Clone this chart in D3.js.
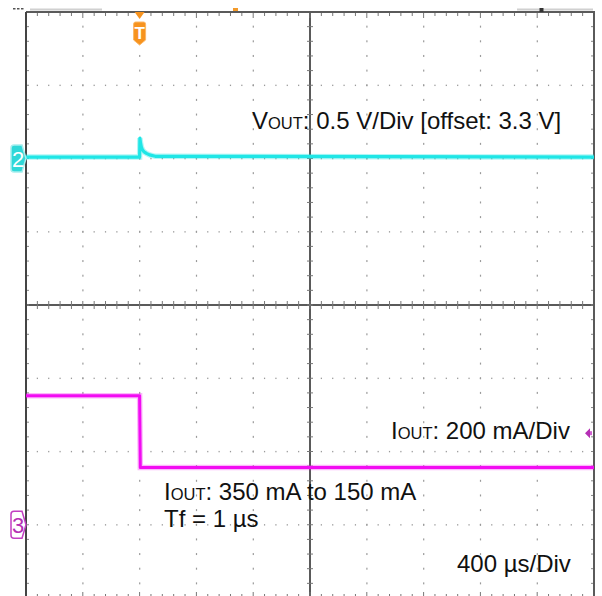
<!DOCTYPE html>
<html><head><meta charset="utf-8">
<script src="https://cdn.jsdelivr.net/npm/d3@7"></script>
<style>
html,body{margin:0;padding:0;background:#fff;}
svg{display:block;}
text{font-family:"Liberation Sans",Arial,sans-serif;}
</style></head>
<body>
<svg id="c" width="602" height="596"></svg>
<script>
// ---- data ----
const timeDomainUs = [-800, 3200];          // 400 µs/Div, 10 divisions, trigger at 0
const vDomain = [0.3, 4.3];                 // 0.5 V/Div, offset 3.3 V
const iDomain = [-0.2, 1.4];                // 200 mA/Div
const vTime = [-800, 0, 2, 6, 12, 20, 32, 48, 70, 110, 3200];
const vOut  = [3.31, 3.31, 3.44, 3.41, 3.38, 3.36, 3.345, 3.335, 3.325, 3.315, 3.31];
const iTime = [-800, 0, 5, 3200];
const iOut  = [0.352, 0.352, 0.156, 0.156];
const vOffset = 3.3;
const iZero = 0;
const triggerLevelA = 0.25;
const labels = [
  {main:"V", sub:"OUT", rest:": 0.5 V/Div [offset: 3.3 V]", x:252, y:129},
  {main:"I", sub:"OUT", rest:": 200 mA/Div", x:391, y:439},
  {main:"I", sub:"OUT", rest:": 350 mA to 150 mA", x:164, y:500},
  {main:"", sub:"", rest:"Tf = 1 µs", x:164, y:527},
  {main:"", sub:"", rest:"400 µs/Div", x:457, y:572}
];

// ---- layout ----
const L = 26, R = 594, T = 12, B = 598;
const x = d3.scaleLinear().domain(timeDomainUs).range([L, R]);
const yV = d3.scaleLinear().domain(vDomain).range([B, T]);
const yI = d3.scaleLinear().domain(iDomain).range([B, T]);
const svg = d3.select("#c");

const divX = (R - L) / 10, divY = (B - T) / 8;
const minorX = d3.range(0, 51).map(i => L + i * divX / 5);
const minorY = d3.range(0, 41).map(i => T + i * divY / 5);
const majorX = d3.range(1, 10).map(i => L + i * divX);
const majorY = d3.range(1, 8).map(i => T + i * divY);
const cx = L + 5 * divX, cy = T + 4 * divY;

const g = svg.append("g");
const dotC = "#9a9a9a";
// dotted grid
majorX.filter(v => Math.abs(v - cx) > 1).forEach(xx => {
  minorY.forEach(yy => g.append("rect").attr("x", xx - 0.5).attr("y", yy - 1).attr("width", 1.2).attr("height", 2).attr("fill", dotC));
});
majorY.filter(v => Math.abs(v - cy) > 1).forEach(yy => {
  minorX.forEach(xx => g.append("rect").attr("x", xx - 0.6).attr("y", yy - 0.6).attr("width", 1.2).attr("height", 1.4).attr("fill", dotC));
});
const lineC = "#5a5a5a";
// center cross
g.append("line").attr("x1", L).attr("x2", R).attr("y1", cy).attr("y2", cy).attr("stroke", lineC).attr("stroke-width", 2);
g.append("line").attr("x1", cx).attr("x2", cx).attr("y1", T).attr("y2", B).attr("stroke", lineC).attr("stroke-width", 2);
minorX.forEach(xx => g.append("line").attr("x1", xx).attr("x2", xx).attr("y1", cy - 4).attr("y2", cy + 4).attr("stroke", "#777").attr("stroke-width", 1));
minorY.forEach(yy => g.append("line").attr("x1", cx - 3).attr("x2", cx + 3).attr("y1", yy).attr("y2", yy).attr("stroke", "#777").attr("stroke-width", 1));
// border ticks
minorX.forEach((xx, i) => {
  const len = i % 5 === 0 ? 6 : 4;
  g.append("line").attr("x1", xx).attr("x2", xx).attr("y1", T).attr("y2", T + len).attr("stroke", "#777").attr("stroke-width", 1);
  g.append("line").attr("x1", xx).attr("x2", xx).attr("y1", B).attr("y2", B - len).attr("stroke", "#777").attr("stroke-width", 1);
});
minorY.forEach(yy => {
  g.append("line").attr("x1", L).attr("x2", L + 3).attr("y1", yy).attr("y2", yy).attr("stroke", "#888").attr("stroke-width", 1);
  g.append("line").attr("x1", R).attr("x2", R - 3).attr("y1", yy).attr("y2", yy).attr("stroke", "#888").attr("stroke-width", 1);
});
// border
g.append("line").attr("x1", L).attr("x2", R + 1).attr("y1", T).attr("y2", T).attr("stroke", lineC).attr("stroke-width", 2);
g.append("line").attr("x1", L).attr("x2", L).attr("y1", T).attr("y2", B).attr("stroke", "#444").attr("stroke-width", 2);
g.append("line").attr("x1", R).attr("x2", R).attr("y1", T).attr("y2", B).attr("stroke", lineC).attr("stroke-width", 2);

// top status bits
g.append("rect").attr("x", 30).attr("y", 8.5).attr("width", 72).attr("height", 2).attr("fill", "#d0d0d0");
g.append("rect").attr("x", 517).attr("y", 8.5).attr("width", 76).attr("height", 2).attr("fill", "#d0d0d0");
[13, 17, 21].forEach(xx => g.append("rect").attr("x", xx).attr("y", 8).attr("width", 2.5).attr("height", 1.5).attr("fill", "#555"));
g.append("rect").attr("x", 233).attr("y", 8).attr("width", 5).attr("height", 3).attr("fill", "#f39a2a");
g.append("rect").attr("x", 539.5).attr("y", 8).attr("width", 4).attr("height", 4).attr("fill", "#333");

// traces
const cyan = "#1fe6e6", mag = "#f20cf2";
const lineV = d3.line().x((d, i) => x(vTime[i])).y(d => yV(d));
const lineI = d3.line().x((d, i) => x(iTime[i])).y(d => yI(d));
svg.append("path").attr("d", lineV(vOut)).attr("fill", "none").attr("stroke", cyan).attr("stroke-width", 5.5).attr("opacity", 0.35);
svg.append("path").attr("d", lineV(vOut)).attr("fill", "none").attr("stroke", cyan).attr("stroke-width", 3.2).attr("stroke-linejoin", "round");
svg.append("path").attr("d", lineI(iOut)).attr("fill", "none").attr("stroke", mag).attr("stroke-width", 5.5).attr("opacity", 0.3);
svg.append("path").attr("d", lineI(iOut)).attr("fill", "none").attr("stroke", mag).attr("stroke-width", 3).attr("stroke-linejoin", "round");

// trigger marker
const tx = x(0);
svg.append("path").attr("d", `M${tx-5},${T}L${tx+5},${T}L${tx},${T+7}Z`).attr("fill", "#f7931e");
svg.append("path").attr("d", `M${tx-6},${T+12}Q${tx-6},${T+10} ${tx-4},${T+10}L${tx+4},${T+10}Q${tx+6},${T+10} ${tx+6},${T+12}L${tx+6},${T+28}L${tx},${T+33}L${tx-6},${T+28}Z`)
  .attr("fill", "#f7931e").attr("stroke", "#fbb766").attr("stroke-width", 1);
svg.append("text").attr("x", tx).attr("y", T + 27).attr("text-anchor", "middle").attr("fill", "#fff").attr("font-size", 17).attr("font-weight", "bold").text("T");

// channel markers
function chMarker(yc, fill, stroke, txtColor, label) {
  const t = yc - 13.5, b = yc + 13.5;
  svg.append("path").attr("d", `M14,${t}L22,${t}L26,${yc}L22,${b}L14,${b}Q11,${b} 11,${b-3}L11,${t+3}Q11,${t} 14,${t}Z`)
    .attr("fill", fill).attr("stroke", stroke).attr("stroke-width", 1.5);
  svg.append("text").attr("x", 18).attr("y", yc + 8).attr("text-anchor", "middle").attr("fill", txtColor).attr("font-size", 22).text(label);
}
chMarker(yV(vOffset), "#2fd8d8", "#a7eeee", "#ffffff", "2");
chMarker(yI(iZero), "#ffffff", "#c23fc2", "#b52fb5", "3");

// trigger level marker (right)
const ty = yI(triggerLevelA);
svg.append("path").attr("d", `M585,${ty}L590,${ty-5}L590,${ty+5}Z`).attr("fill", "#b52fb5");
svg.append("rect").attr("x", 590).attr("y", ty - 2).attr("width", 2).attr("height", 4).attr("fill", "#d060d0");

// labels
labels.forEach(l => {
  const t = svg.append("text").attr("x", l.x).attr("y", l.y).attr("fill", "#111").attr("font-size", 24);
  if (l.main) t.append("tspan").text(l.main);
  if (l.sub) t.append("tspan").attr("font-size", 16.5).text(l.sub);
  t.append("tspan").text(l.rest);
});
</script>
</body></html>
